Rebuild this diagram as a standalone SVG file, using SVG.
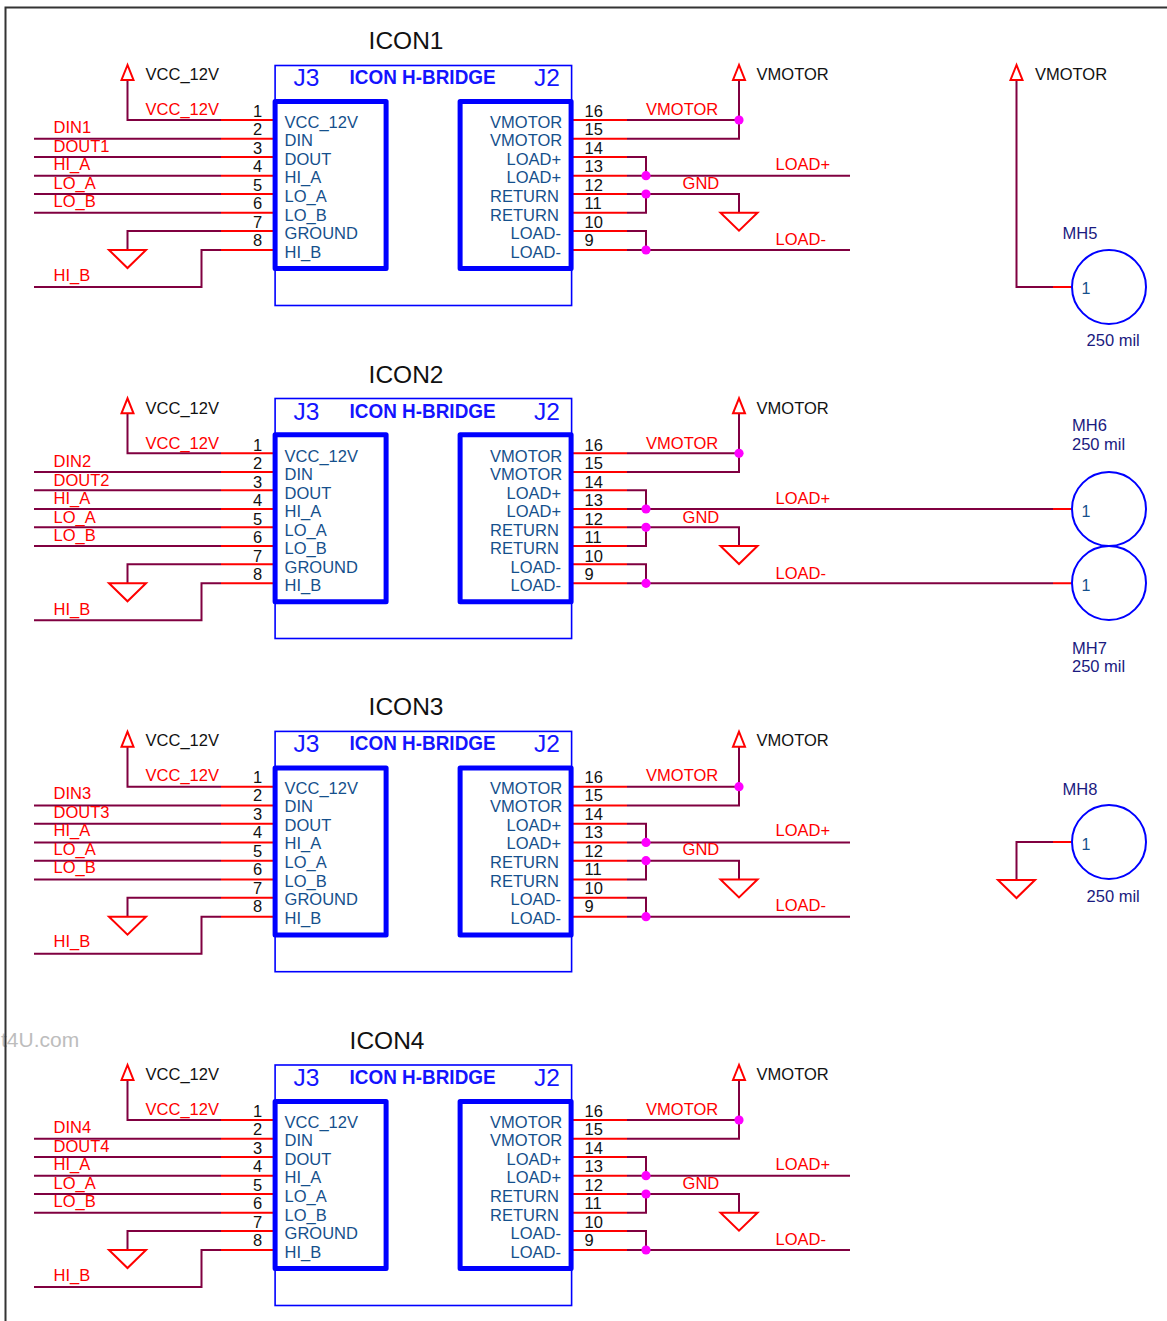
<svg xmlns="http://www.w3.org/2000/svg" xmlns:xlink="http://www.w3.org/1999/xlink" width="1167" height="1321" viewBox="0 0 1167 1321">
<style>
text{font-family:"Liberation Sans",Arial,sans-serif;font-size:16.5px}
.title{font-size:24.5px;fill:#111}
.blk{fill:#111}
.num{font-size:16.5px;fill:#111}
.red{fill:#f00}
.pin{fill:#15508c}
.ref{font-size:24.5px;fill:#1414ff}
.hb{font-size:19.6px;font-weight:bold;fill:#1414ff}
.mh{fill:#1a1a80}
.one{font-size:16px;fill:#15508c}
.box{fill:none;stroke:#00f;stroke-width:1.6}
.thick{fill:none;stroke:#00f;stroke-width:5;stroke-linejoin:round}
.net{fill:none;stroke:#800040;stroke-width:2}
.pinw{fill:none;stroke:#f00;stroke-width:2}
.sym{fill:none;stroke:#f00;stroke-width:2}
.dot{fill:#f0f}
.hole{fill:none;stroke:#00f;stroke-width:2}
</style>
<defs>
<path id="up" class="sym" d="M0 -15L-6 0H6Z"/>
<path id="gnd" class="sym" d="M-18.5 0H18.5L0 18Z"/>
<g id="nets">
<path class="net" d="M221 120H127.5V80"/>
<path class="net" d="M221 138.7H34"/>
<path class="net" d="M221 157H34"/>
<path class="net" d="M221 175.7H34"/>
<path class="net" d="M221 194H34"/>
<path class="net" d="M221 212.7H34"/>
<path class="net" d="M221 231H127.5V250"/>
<path class="net" d="M221 250H201.5V287H34"/>
<path class="net" d="M627 120H739V80"/>
<path class="net" d="M627 138.7H739V120"/>
<path class="net" d="M627 157H646V175.7"/>
<path class="net" d="M627 194H739V212.7"/>
<path class="net" d="M627 212.7H646V194"/>
<path class="net" d="M627 231H646V250"/>
<path class="pinw" d="M221 120H275M221 138.7H275M221 157H275M221 175.7H275M221 194H275M221 212.7H275M221 231H275M221 250H275"/>
<path class="pinw" d="M572 120H627M572 138.7H627M572 157H627M572 175.7H627M572 194H627M572 212.7H627M572 231H627M572 250H627"/>
</g>
<g id="syms">
<use xlink:href="#up" href="#up" x="127.5" y="80"/>
<use xlink:href="#gnd" href="#gnd" x="127.5" y="250"/>
<use xlink:href="#up" href="#up" x="739" y="80"/>
<use xlink:href="#gnd" href="#gnd" x="739" y="212.7"/>
<circle class="dot" cx="739" cy="120" r="4.6"/>
<circle class="dot" cx="646" cy="175.7" r="4.6"/>
<circle class="dot" cx="646" cy="194" r="4.6"/>
<circle class="dot" cx="646" cy="250" r="4.6"/>
</g>
</defs>
<rect width="1167" height="1321" fill="#fff"/>
<text x="1" y="1047" style="font-size:21px" fill="#bdbdbd">t4U.com</text>
<path d="M1167 7.5H5.5V1321" fill="none" stroke="#333" stroke-width="2"/>

<g id="connectors">
<g transform="translate(0,0)">
<use xlink:href="#nets" href="#nets"/>
<path class="net" d="M627 175.7H850"/><path class="net" d="M627 250H850"/>
<use xlink:href="#syms" href="#syms"/>
</g>
<g transform="translate(0,333.3)">
<use xlink:href="#nets" href="#nets"/>
<path class="net" d="M627 175.7H1053"/><path class="net" d="M627 250H1053"/>
<path class="pinw" d="M1053 175.7H1072M1053 250H1072"/>
<use xlink:href="#syms" href="#syms"/>
</g>
<g transform="translate(0,666.7)">
<use xlink:href="#nets" href="#nets"/>
<path class="net" d="M627 175.7H850"/><path class="net" d="M627 250H850"/>
<use xlink:href="#syms" href="#syms"/>
</g>
<g transform="translate(0,1000)">
<use xlink:href="#nets" href="#nets"/>
<path class="net" d="M627 175.7H850"/><path class="net" d="M627 250H850"/>
<use xlink:href="#syms" href="#syms"/>
</g>
<path class="net" d="M1053 287H1016.5V80"/><path class="pinw" d="M1053 287H1072"/>
<use xlink:href="#up" href="#up" x="1016.5" y="80"/>
<path class="net" d="M1053 842H1016.5V880"/><path class="pinw" d="M1053 842H1072"/>
<use xlink:href="#gnd" href="#gnd" x="1016.5" y="880"/>
</g>

<g id="icon1" transform="translate(-0.4,0)">
<text class="title" x="369" y="49">ICON1</text>
<rect class="box" x="275.5" y="65.5" width="296.5" height="240"/>
<rect class="thick" x="275.5" y="101.5" width="111" height="167"/>
<rect class="thick" x="460.5" y="101.5" width="111" height="167"/>
<text class="ref" x="294" y="86">J3</text>
<text class="hb" x="350" y="84" textLength="146" lengthAdjust="spacingAndGlyphs">ICON H-BRIDGE</text>
<text class="ref" x="534.5" y="86">J2</text>
<text class="blk" x="146" y="80">VCC_12V</text><text class="red" x="146" y="115">VCC_12V</text>
<text class="blk" x="757" y="80">VMOTOR</text><text class="red" x="646.5" y="115">VMOTOR</text>
<text class="red" x="54" y="133">DIN1</text><text class="red" x="54" y="152">DOUT1</text><text class="red" x="54" y="170">HI_A</text><text class="red" x="54" y="189">LO_A</text><text class="red" x="54" y="207">LO_B</text><text class="red" x="54" y="281">HI_B</text>
<text class="red" x="776" y="170">LOAD+</text><text class="red" x="683" y="189">GND</text><text class="red" x="776" y="245">LOAD-</text>
<text class="num" x="258" y="117" text-anchor="middle">1</text><text class="num" x="258" y="135" text-anchor="middle">2</text><text class="num" x="258" y="154" text-anchor="middle">3</text><text class="num" x="258" y="172" text-anchor="middle">4</text><text class="num" x="258" y="191" text-anchor="middle">5</text><text class="num" x="258" y="209" text-anchor="middle">6</text><text class="num" x="258" y="228" text-anchor="middle">7</text><text class="num" x="258" y="246" text-anchor="middle">8</text>
<text class="num" x="585" y="117">16</text><text class="num" x="585" y="135">15</text><text class="num" x="585" y="154">14</text><text class="num" x="585" y="172">13</text><text class="num" x="585" y="191">12</text><text class="num" x="585" y="209">11</text><text class="num" x="585" y="228">10</text><text class="num" x="585" y="246">9</text>
<text class="pin" x="285" y="128">VCC_12V</text><text class="pin" x="285" y="146">DIN</text><text class="pin" x="285" y="165">DOUT</text><text class="pin" x="285" y="183">HI_A</text><text class="pin" x="285" y="202">LO_A</text><text class="pin" x="285" y="220.5">LO_B</text><text class="pin" x="285" y="239">GROUND</text><text class="pin" x="285" y="257.5">HI_B</text>
<text class="pin" x="490.5" y="128">VMOTOR</text><text class="pin" x="490.5" y="146">VMOTOR</text><text class="pin" x="507" y="165">LOAD+</text><text class="pin" x="507" y="183">LOAD+</text><text class="pin" x="490.5" y="202">RETURN</text><text class="pin" x="490.5" y="220.5">RETURN</text><text class="pin" x="511" y="239">LOAD-</text><text class="pin" x="511" y="257.5">LOAD-</text>
</g>

<g id="icon2" transform="translate(-0.4,333.5)">
<text class="title" x="369" y="49">ICON2</text>
<rect class="box" x="275.5" y="65" width="296.5" height="240"/>
<rect class="thick" x="275.5" y="101.3" width="111" height="167"/>
<rect class="thick" x="460.5" y="101.3" width="111" height="167"/>
<text class="ref" x="294" y="86">J3</text>
<text class="hb" x="350" y="84" textLength="146" lengthAdjust="spacingAndGlyphs">ICON H-BRIDGE</text>
<text class="ref" x="534.5" y="86">J2</text>
<text class="blk" x="146" y="80">VCC_12V</text><text class="red" x="146" y="115">VCC_12V</text>
<text class="blk" x="757" y="80">VMOTOR</text><text class="red" x="646.5" y="115">VMOTOR</text>
<text class="red" x="54" y="133">DIN2</text><text class="red" x="54" y="152">DOUT2</text><text class="red" x="54" y="170">HI_A</text><text class="red" x="54" y="189">LO_A</text><text class="red" x="54" y="207">LO_B</text><text class="red" x="54" y="281">HI_B</text>
<text class="red" x="776" y="170">LOAD+</text><text class="red" x="683" y="189">GND</text><text class="red" x="776" y="245">LOAD-</text>
<text class="num" x="258" y="117" text-anchor="middle">1</text><text class="num" x="258" y="135" text-anchor="middle">2</text><text class="num" x="258" y="154" text-anchor="middle">3</text><text class="num" x="258" y="172" text-anchor="middle">4</text><text class="num" x="258" y="191" text-anchor="middle">5</text><text class="num" x="258" y="209" text-anchor="middle">6</text><text class="num" x="258" y="228" text-anchor="middle">7</text><text class="num" x="258" y="246" text-anchor="middle">8</text>
<text class="num" x="585" y="117">16</text><text class="num" x="585" y="135">15</text><text class="num" x="585" y="154">14</text><text class="num" x="585" y="172">13</text><text class="num" x="585" y="191">12</text><text class="num" x="585" y="209">11</text><text class="num" x="585" y="228">10</text><text class="num" x="585" y="246">9</text>
<text class="pin" x="285" y="128">VCC_12V</text><text class="pin" x="285" y="146">DIN</text><text class="pin" x="285" y="165">DOUT</text><text class="pin" x="285" y="183">HI_A</text><text class="pin" x="285" y="202">LO_A</text><text class="pin" x="285" y="220.5">LO_B</text><text class="pin" x="285" y="239">GROUND</text><text class="pin" x="285" y="257.5">HI_B</text>
<text class="pin" x="490.5" y="128">VMOTOR</text><text class="pin" x="490.5" y="146">VMOTOR</text><text class="pin" x="507" y="165">LOAD+</text><text class="pin" x="507" y="183">LOAD+</text><text class="pin" x="490.5" y="202">RETURN</text><text class="pin" x="490.5" y="220.5">RETURN</text><text class="pin" x="511" y="239">LOAD-</text><text class="pin" x="511" y="257.5">LOAD-</text>
</g>

<g id="icon3" transform="translate(-0.4,666.4)">
<text class="title" x="369" y="49">ICON3</text>
<rect class="box" x="275.5" y="65" width="296.5" height="240.3"/>
<rect class="thick" x="275.5" y="101.6" width="111" height="167"/>
<rect class="thick" x="460.5" y="101.6" width="111" height="167"/>
<text class="ref" x="294" y="86">J3</text>
<text class="hb" x="350" y="84" textLength="146" lengthAdjust="spacingAndGlyphs">ICON H-BRIDGE</text>
<text class="ref" x="534.5" y="86">J2</text>
<text class="blk" x="146" y="80">VCC_12V</text><text class="red" x="146" y="115">VCC_12V</text>
<text class="blk" x="757" y="80">VMOTOR</text><text class="red" x="646.5" y="115">VMOTOR</text>
<text class="red" x="54" y="133">DIN3</text><text class="red" x="54" y="152">DOUT3</text><text class="red" x="54" y="170">HI_A</text><text class="red" x="54" y="189">LO_A</text><text class="red" x="54" y="207">LO_B</text><text class="red" x="54" y="281">HI_B</text>
<text class="red" x="776" y="170">LOAD+</text><text class="red" x="683" y="189">GND</text><text class="red" x="776" y="245">LOAD-</text>
<text class="num" x="258" y="117" text-anchor="middle">1</text><text class="num" x="258" y="135" text-anchor="middle">2</text><text class="num" x="258" y="154" text-anchor="middle">3</text><text class="num" x="258" y="172" text-anchor="middle">4</text><text class="num" x="258" y="191" text-anchor="middle">5</text><text class="num" x="258" y="209" text-anchor="middle">6</text><text class="num" x="258" y="228" text-anchor="middle">7</text><text class="num" x="258" y="246" text-anchor="middle">8</text>
<text class="num" x="585" y="117">16</text><text class="num" x="585" y="135">15</text><text class="num" x="585" y="154">14</text><text class="num" x="585" y="172">13</text><text class="num" x="585" y="191">12</text><text class="num" x="585" y="209">11</text><text class="num" x="585" y="228">10</text><text class="num" x="585" y="246">9</text>
<text class="pin" x="285" y="128">VCC_12V</text><text class="pin" x="285" y="146">DIN</text><text class="pin" x="285" y="165">DOUT</text><text class="pin" x="285" y="183">HI_A</text><text class="pin" x="285" y="202">LO_A</text><text class="pin" x="285" y="220.5">LO_B</text><text class="pin" x="285" y="239">GROUND</text><text class="pin" x="285" y="257.5">HI_B</text>
<text class="pin" x="490.5" y="128">VMOTOR</text><text class="pin" x="490.5" y="146">VMOTOR</text><text class="pin" x="507" y="165">LOAD+</text><text class="pin" x="507" y="183">LOAD+</text><text class="pin" x="490.5" y="202">RETURN</text><text class="pin" x="490.5" y="220.5">RETURN</text><text class="pin" x="511" y="239">LOAD-</text><text class="pin" x="511" y="257.5">LOAD-</text>
</g>

<g id="icon4" transform="translate(-0.4,1000)">
<text class="title" x="350" y="49">ICON4</text>
<rect class="box" x="275.5" y="65" width="296.5" height="240.5"/>
<rect class="thick" x="275.5" y="101.5" width="111" height="167"/>
<rect class="thick" x="460.5" y="101.5" width="111" height="167"/>
<text class="ref" x="294" y="86">J3</text>
<text class="hb" x="350" y="84" textLength="146" lengthAdjust="spacingAndGlyphs">ICON H-BRIDGE</text>
<text class="ref" x="534.5" y="86">J2</text>
<text class="blk" x="146" y="80">VCC_12V</text><text class="red" x="146" y="115">VCC_12V</text>
<text class="blk" x="757" y="80">VMOTOR</text><text class="red" x="646.5" y="115">VMOTOR</text>
<text class="red" x="54" y="133">DIN4</text><text class="red" x="54" y="152">DOUT4</text><text class="red" x="54" y="170">HI_A</text><text class="red" x="54" y="189">LO_A</text><text class="red" x="54" y="207">LO_B</text><text class="red" x="54" y="281">HI_B</text>
<text class="red" x="776" y="170">LOAD+</text><text class="red" x="683" y="189">GND</text><text class="red" x="776" y="245">LOAD-</text>
<text class="num" x="258" y="117" text-anchor="middle">1</text><text class="num" x="258" y="135" text-anchor="middle">2</text><text class="num" x="258" y="154" text-anchor="middle">3</text><text class="num" x="258" y="172" text-anchor="middle">4</text><text class="num" x="258" y="191" text-anchor="middle">5</text><text class="num" x="258" y="209" text-anchor="middle">6</text><text class="num" x="258" y="228" text-anchor="middle">7</text><text class="num" x="258" y="246" text-anchor="middle">8</text>
<text class="num" x="585" y="117">16</text><text class="num" x="585" y="135">15</text><text class="num" x="585" y="154">14</text><text class="num" x="585" y="172">13</text><text class="num" x="585" y="191">12</text><text class="num" x="585" y="209">11</text><text class="num" x="585" y="228">10</text><text class="num" x="585" y="246">9</text>
<text class="pin" x="285" y="128">VCC_12V</text><text class="pin" x="285" y="146">DIN</text><text class="pin" x="285" y="165">DOUT</text><text class="pin" x="285" y="183">HI_A</text><text class="pin" x="285" y="202">LO_A</text><text class="pin" x="285" y="220.5">LO_B</text><text class="pin" x="285" y="239">GROUND</text><text class="pin" x="285" y="257.5">HI_B</text>
<text class="pin" x="490.5" y="128">VMOTOR</text><text class="pin" x="490.5" y="146">VMOTOR</text><text class="pin" x="507" y="165">LOAD+</text><text class="pin" x="507" y="183">LOAD+</text><text class="pin" x="490.5" y="202">RETURN</text><text class="pin" x="490.5" y="220.5">RETURN</text><text class="pin" x="511" y="239">LOAD-</text><text class="pin" x="511" y="257.5">LOAD-</text>
</g>

<g id="mh5">
<text class="blk" x="1035" y="80">VMOTOR</text>
<text class="mh" x="1062.6" y="239">MH5</text>
<circle class="hole" cx="1109" cy="287" r="37"/>
<text class="one" x="1081.5" y="294">1</text>
<text class="mh" x="1086.6" y="346">250 mil</text>
</g>
<g id="mh6">
<text class="mh" x="1072" y="431">MH6</text><text class="mh" x="1072" y="450">250 mil</text>
<circle class="hole" cx="1109" cy="509" r="37"/>
<text class="one" x="1081.5" y="516.5">1</text>
</g>
<g id="mh7">
<circle class="hole" cx="1109" cy="583" r="37"/>
<text class="one" x="1081.5" y="590.5">1</text>
<text class="mh" x="1072" y="654">MH7</text><text class="mh" x="1072" y="672">250 mil</text>
</g>
<g id="mh8">
<text class="mh" x="1062.6" y="795">MH8</text>
<circle class="hole" cx="1109" cy="842" r="37"/>
<text class="one" x="1081.5" y="850">1</text>
<text class="mh" x="1086.6" y="902">250 mil</text>
</g>
</svg>
